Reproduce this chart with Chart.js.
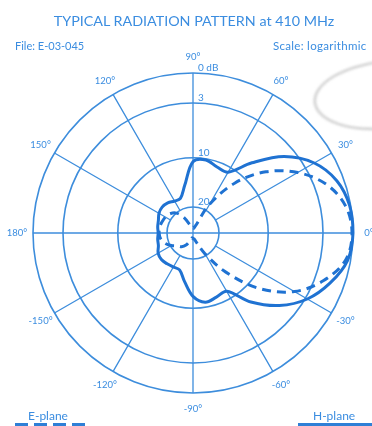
<!DOCTYPE html>
<html>
<head>
<meta charset="utf-8">
<script src="https://cdn.jsdelivr.net/npm/chart.js@4.4.1/dist/chart.umd.min.js"></script>
<style>
  body { margin: 0; background: #fff; }
  #wrap { position: relative; width: 372px; height: 426px; overflow: hidden; font-family: Lato, 'DejaVu Sans', sans-serif; color: #3b8de0; }
  #wrap canvas { position: absolute; left: 0; top: 0; }
  .txt { position: absolute; white-space: nowrap; line-height: 1; }
  #title { left: 194px; top: 14px; font-size: 14.3px; transform: translateX(-50%); }
  #file { left: 15px; top: 40px; font-size: 11px; }
  #scaleTxt { left: 273px; top: 40px; font-size: 11.5px; letter-spacing: 0.3px; }
  #eLbl { left: 28px; top: 410px; font-size: 12px; }
  #hLbl { left: 313px; top: 410px; font-size: 12px; }
  #eLine { position: absolute; left: 15px; top: 423px; width: 72px; height: 3px;
    background: repeating-linear-gradient(90deg, #2f7fd6 0 13px, transparent 13px 19px); }
  #hLine { position: absolute; left: 298px; top: 423px; width: 74px; height: 3px; background: #2f7fd6; }
  #photo { position: absolute; left: 313px; top: 60px; width: 140px; height: 64px; border: 3px solid #d6d6d6;
    border-radius: 50%; filter: blur(1px); transform: rotate(-6deg); }
</style>
</head>
<body>
<div id="wrap">
  <div id="photo"></div>
  <canvas id="polar" width="372" height="426"></canvas>
  <div class="txt" id="title">TYPICAL RADIATION PATTERN at 410 MHz</div>
  <div class="txt" id="file">File: E-03-045</div>
  <div class="txt" id="scaleTxt">Scale: logarithmic</div>
  <div class="txt" id="eLbl">E-plane</div>
  <div id="eLine"></div>
  <div class="txt" id="hLbl">H-plane</div>
  <div id="hLine"></div>
</div>
<script>
// angles in the order the radar goes round (clockwise from the top)
const angles = [90, 80, 70, 60, 50, 40, 30, 20, 10, 0, -10, -20, -30, -40, -50, -60, -70, -80, -90,
  -100, -110, -120, -130, -140, -150, -160, -170, 180, 170, 160, 150, 140, 130, 120, 110, 100];

// attenuation in dB below the peak
const hPlane = [10.8, 10.2, 11.0, 11.0, 7.9, 4.4, 2.0, 0.7, 0.1, 0, 0.3, 1.4, 2.8, 5.2, 8.1, 11.6, 11.4, 11.0, 12.4,
  15.3, 17.3, 17.3, 17.1, 16.9, 17.1, 17.8, 18.0, 18.2, 18.0, 17.8, 17.3, 17.1, 17.3, 17.8, 17.8, 15.5];
const ePlane = [26.2, 26.5, 25.5, 18.6, 12.0, 7.45, 4.15, 1.8, 0.5, 0.1, 0.5, 2.1, 4.65, 8.6, 14.9, 20.6, 24.9, 26.2, 26.2,
  26.5, 25.5, 23.7, 22.5, 21.8, 20.3, 19.2, 18.6, 18.4, 18.4, 18.6, 18.8, 19.2, 20.0, 22.5, 25.5, 26.5];

// rings of the log scale and their labels
const ringDb = [0, 3, 10, 20];
const ringText = ['0 dB', '3', '10', '20'];

// the log paper: dB -> fraction of the outer radius
const paperDb = [0, 3, 10, 20, 28];
const paperR = [1, 0.8125, 0.47, 0.1625, 0];

function dbToR(db) {
  for (let i = 1; i < paperDb.length; i++) {
    if (db <= paperDb[i]) {
      const t = (db - paperDb[i - 1]) / (paperDb[i] - paperDb[i - 1]);
      return paperR[i - 1] + t * (paperR[i] - paperR[i - 1]);
    }
  }
  return 0;
}

const gridBlue = '#3d8ddc';
const curveBlue = '#1f72d2';
const textBlue = '#3b8de0';

// angle and dB labels, placed with the scale
const polarText = {
  id: 'polarText',
  afterDraw(chart) {
    const s = chart.scales.r;
    const c = chart.ctx;
    c.save();
    c.fillStyle = textBlue;
    c.font = '9.5px Lato';
    c.textAlign = 'center';
    c.textBaseline = 'middle';
    angles.forEach((a, i) => {
      if (a % 30 !== 0) return;
      const p = s.getPointPosition(i, s.drawingArea * 1.1);
      c.fillText(a + '°', p.x, p.y);
    });
    c.font = '10px Lato';
    c.textAlign = 'left';
    c.textBaseline = 'alphabetic';
    ringDb.forEach((d, i) => {
      const dist = s.getDistanceFromCenterForValue(dbToR(d));
      c.fillText(ringText[i], s.xCenter + 5, s.yCenter - dist - 2);
    });
    c.restore();
  }
};

new Chart(document.getElementById('polar'), {
  type: 'radar',
  data: {
    labels: angles.map(a => a + '°'),
    datasets: [{
      label: 'H-plane',
      data: hPlane.map(dbToR),
      borderColor: curveBlue,
      borderWidth: 3,
      fill: false,
      pointRadius: 0,
      tension: 0.35
    }, {
      label: 'E-plane',
      data: ePlane.map(dbToR),
      borderColor: curveBlue,
      borderWidth: 3,
      borderDash: [9, 6],
      fill: false,
      pointRadius: 0,
      tension: 0.35
    }]
  },
  options: {
    responsive: false,
    animation: false,
    layout: { padding: { left: 33, right: 19, top: 73, bottom: 33 } },
    plugins: { legend: { display: false }, tooltip: { enabled: false } },
    scales: {
      r: {
        min: 0,
        max: 1,
        ticks: { display: false },
        afterBuildTicks: (scale) => {
          scale.ticks = [0].concat(ringDb.slice().reverse().map(d => dbToR(d))).map(v => ({ value: v }));
        },
        grid: { circular: true, color: gridBlue, lineWidth: 1.6 },
        angleLines: {
          color: gridBlue,
          lineWidth: (c) => c.index % 3 === 0 ? 1.3 : 0,
          // the 30° spokes start at the 20 dB ring, the axes go through the centre
          borderDash: (c) => c.index % 9 === 0 ? [] : [0, c.chart.scales.r.drawingArea * dbToR(20), 999]
        },
        pointLabels: { display: false }
      }
    }
  },
  plugins: [polarText]
});
</script>
</body>
</html>
